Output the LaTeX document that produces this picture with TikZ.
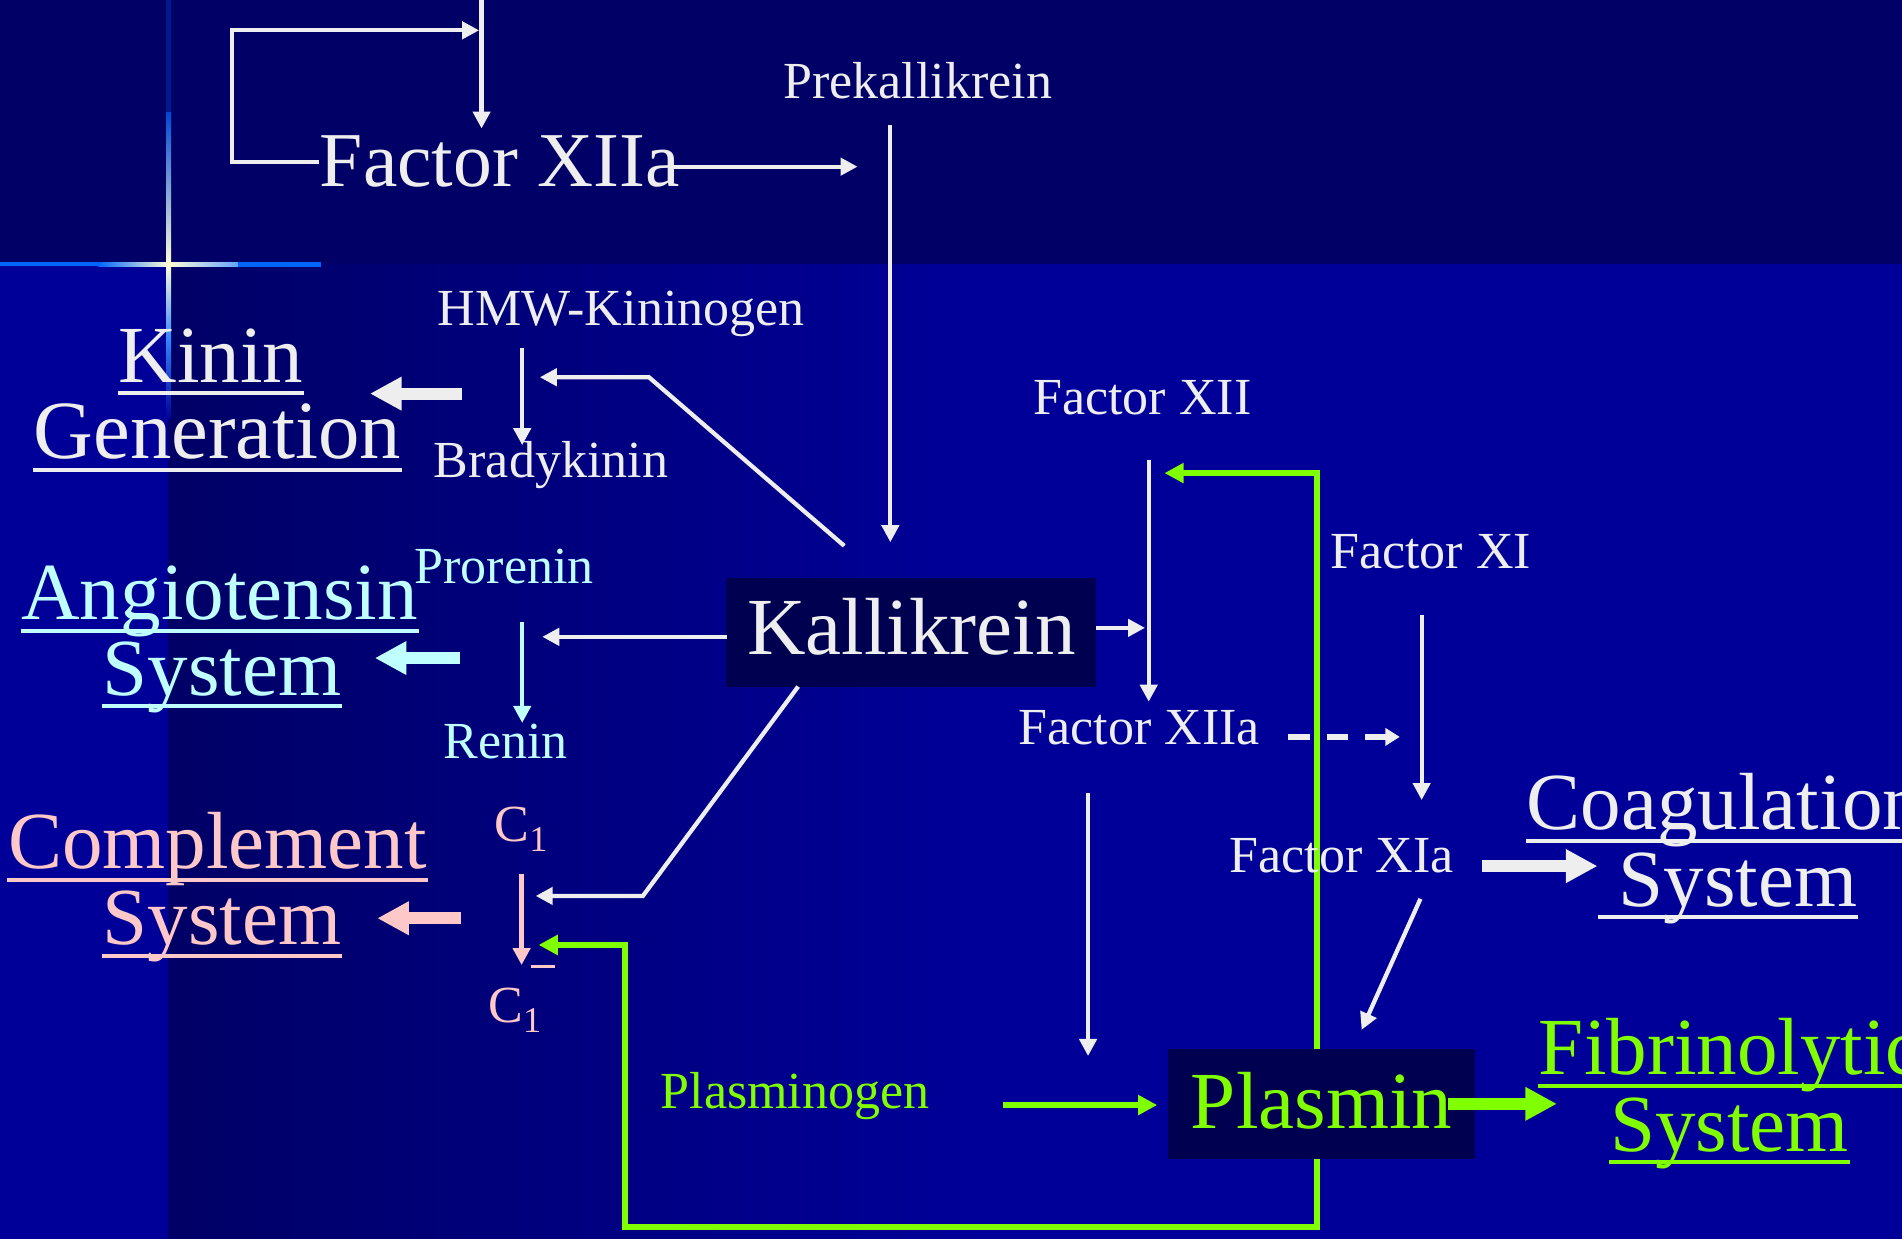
\documentclass[tikz,border=0pt]{standalone}
\usepackage{fontspec}
\setmainfont{Liberation Serif}
\usepackage{xcolor}
\usepackage{tikz}
\usetikzlibrary{arrows.meta}
\definecolor{navytop}{HTML}{000066}
\definecolor{navylow}{HTML}{000099}
\definecolor{boxnavy}{HTML}{000050}
\definecolor{wht}{HTML}{EEEEEE}
\definecolor{cyn}{HTML}{C0FFFF}
\definecolor{pnk}{HTML}{FFC8C8}
\definecolor{grn}{HTML}{80FF00}
\definecolor{glowblue}{HTML}{0066FF}
\definecolor{glowwht}{HTML}{FFFFD8}

\begin{document}
\begin{tikzpicture}[x=0.01cm,y=-0.01cm,
  big/.style={inner sep=0pt,anchor=base west,font=\fontsize{19}{22}\selectfont},
  small/.style={inner sep=0pt,anchor=base west,font=\fontsize{12.2}{14}\selectfont},
  boxed/.style={fill=boxnavy,inner sep=0pt,font=\fontsize{19}{22}\selectfont,text height=13pt},
  thinarr/.style={line width=1pt,-{Triangle[length=4pt,width=4pt]}},
  grnarr/.style={grn,line width=1.4pt,-{Triangle[length=4.5pt,width=4.5pt]}},
  fatarr/.style={line width=2.8pt,-{Triangle[length=7.4pt,width=7.4pt]}},
  ul/.style={line width=0.95pt}]
  \useasboundingbox (0,0) rectangle (1568,1021);
  \clip (0,0) rectangle (1568,1021);
  % background %
  \fill[navytop] (-10,-10) rectangle (1580,218);
  \fill[navylow] (-10,218) rectangle (1580,1035);
  \shade[left color=navytop,right color=navylow] (139,218) rectangle (820,1035);
  \fill[glowblue!25!navytop] (137,-10) rectangle (141,93);
  \shade[top color=glowblue!70!navytop,bottom color=glowwht] (137,93) rectangle (141,218);
  \shade[top color=glowwht,bottom color=glowblue!80!white] (137,218) rectangle (141,280);
  \shade[top color=glowblue!80!white,bottom color=navylow] (137,280) rectangle (141,345);
  \fill[glowblue] (-10,216.3) rectangle (81,219.7);
  \shade[left color=glowblue,right color=glowwht] (81,216.3) rectangle (139,219.7);
  \shade[left color=glowwht,right color=glowblue!60!white] (139,216.3) rectangle (196,219.7);
  \fill[glowblue] (196,215.8) rectangle (265,220.2);

  % end points of the connectors %
  \coordinate (top) at (397,-5);
  \coordinate (xiiain) at (397,106);
  \coordinate (loopend) at (395,25);
  \coordinate (pkin) at (707,137.4);
  \coordinate (pkA) at (734,103);
  \coordinate (pkB) at (734,447);
  \coordinate (hmwA) at (430.5,287);
  \coordinate (hmwB) at (430.5,367);
  \coordinate (kkA) at (696,450);
  \coordinate (kkB) at (535,311);
  \coordinate (kkC) at (445,311);
  \coordinate (renA) at (430.5,512.6);
  \coordinate (renB) at (430.5,596);
  \coordinate (kpA) at (599,525);
  \coordinate (kpB) at (447,525);
  \coordinate (cA) at (430,720.5);
  \coordinate (cB) at (430,795.6);
  \coordinate (kcA) at (658,566);
  \coordinate (kcB) at (530,738.6);
  \coordinate (kcC) at (441.6,738.6);
  \coordinate (gcB) at (444,779);
  \coordinate (kxA) at (903.6,517.6);
  \coordinate (kxB) at (944,517.6);
  \coordinate (xiiA) at (947,379);
  \coordinate (xiiB) at (947,578.5);
  \coordinate (plT) at (1086,865);
  \coordinate (plB) at (1086,955.5);
  \coordinate (xiiG) at (960,390);
  \coordinate (dA) at (1062,607.5);
  \coordinate (dB) at (1154,607.5);
  \coordinate (xiA) at (1172,507);
  \coordinate (xiB) at (1172,659.6);
  \coordinate (xiaA) at (1171,741);
  \coordinate (xiaB) at (1122.5,849);
  \coordinate (downA) at (897,653.6);
  \coordinate (downB) at (897,870.6);
  \coordinate (pgA) at (827,911);
  \coordinate (pgB) at (954,911);

  % boxes %
  \node[boxed,text=wht,minimum width=86.7pt,minimum height=25.5pt,text depth=2.4pt] (kallik) at (751.3,521.3) {Kallikrein};
  \node[boxed,text=grn,minimum width=72pt,minimum height=25.8pt,text depth=1.8pt] (plasmin) at (1089.5,910.3) {Plasmin};

  % thin connectors %
  \draw[thinarr,wht] (top) -- (xiiain);
  \draw[thinarr,wht] (pkA) -- (pkB);
  \draw[thinarr,wht] (hmwA) -- (hmwB);
  \draw[thinarr,wht] (kkA) -- (kkB) -- (kkC);
  \draw[thinarr,cyn] (renA) -- (renB);
  \draw[thinarr,wht] (kpA) -- (kpB);
  \draw[thinarr,pnk] (cA) -- (cB);
  \draw[thinarr,wht] (kcA) -- (kcB) -- (kcC);
  \draw[thinarr,wht] (kxA) -- (kxB);
  \draw[thinarr,wht] (xiiA) -- (xiiB);
  \draw[thinarr,wht] (xiA) -- (xiB);
  \draw[thinarr,wht] (xiaA) -- (xiaB);
  \draw[thinarr,wht] (downA) -- (downB);
  \draw[line width=1.4pt,wht,dash pattern=on 5pt off 4pt,-{Triangle[length=3.4pt,width=4pt]}] (dA) -- (dB); %dashed%
  \draw[pnk,line width=0.8pt] (438,797) -- (457.5,797); %bar over C1%
  % green feedback %
  \draw[grnarr] (plT) |- (xiiG);
  \draw[grnarr] (plB) |- (515,1011.5) |- (gcB);
  \draw[grnarr] (pgA) -- (pgB);

  % labels %
  \node[big,text=wht,font=\fontsize{18.2}{21}\selectfont] (fxiia) at (263,154) {Factor XIIa};
  \draw[thinarr,wht] (fxiia.west) -- ++(-72,0) |- (loopend);
  \draw[thinarr,wht] (555,137.4) -- (pkin);
  \node[small,text=wht] (prekal) at (645,81) {Prekallikrein};
  \node[small,text=wht] (hmwk) at (360,268) {HMW-Kininogen};
  \node[small,text=wht] (brady) at (357,394) {Bradykinin};
  \node[big,text=wht] (kinin) at (97,315) {Kinin~};
  \node[big,text=wht,font=\fontsize{19.4}{22}\selectfont] (gener) at (27,378) {Generation};
  \node[small,text=cyn] (proren) at (341,481) {Prorenin};
  \node[big,text=cyn] (angio) at (17,511) {Angiotensin};
  \node[big,text=cyn] (angsys) at (84,573) {System};
  \node[small,text=cyn] (renin) at (365,625) {Renin};
  \node[big,text=pnk] (compl) at (6,716) {Complement};
  \node[big,text=pnk] (compsys) at (84,779) {System};
  \node[small,text=pnk] (cone) at (407,694) {C\raisebox{-2.3pt}{\fontsize{8.5}{9}\selectfont 1}};
  \node[small,text=pnk] (conebar) at (402,843) {C\raisebox{-2.3pt}{\fontsize{8.5}{9}\selectfont 1}};
  \node[small,text=wht] (factxii) at (851,342) {Factor XII};
  \node[small,text=wht] (factxi) at (1096,468.5) {Factor XI};
  \node[small,text=wht] (fxiiab) at (839,614) {Factor XIIa};
  \node[small,text=wht] (fxia) at (1013,719) {Factor XIa};
  \node[big,text=wht] (coag) at (1258,684) {Coagulation};
  \node[big,text=wht] (coagsys) at (1317,747) {~System};
  \node[small,text=grn] (plgen) at (544,914) {Plasminogen};
  \node[big,text=grn] (fibrin) at (1268,886) {Fibrinolytic};
  \node[big,text=grn] (fibsys) at (1326.6,949) {System};
  \foreach \n/\c in {kinin/wht,gener/wht,angio/cyn,angsys/cyn,compl/pnk,compsys/pnk,coag/wht,coagsys/wht,fibrin/grn,fibsys/grn}
    \draw[ul,\c] ([yshift=-2.6pt]\n.base west) -- ([yshift=-2.6pt]\n.base east);

  % fat arrows to the systems %
  \draw[fatarr,wht] (381,324.5) -- (305,324.5);
  \draw[fatarr,cyn] (379,542.5) -- (309,542.5);
  \draw[fatarr,pnk] (380,757) -- (311,757);
  \draw[fatarr,wht] (1222,714) -- (1317,714);
  \draw[fatarr,grn] (1194,910) -- (1283.5,910);
\end{tikzpicture}
\end{document}
